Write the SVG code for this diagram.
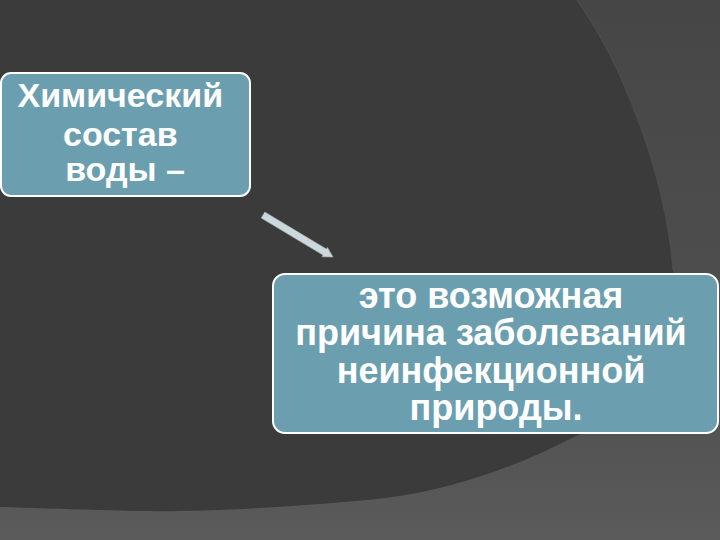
<svg xmlns="http://www.w3.org/2000/svg" width="720" height="540" viewBox="0 0 720 540">
  <defs>
    <linearGradient id="bgGrad" x1="0" y1="0" x2="0" y2="1">
      <stop offset="0" stop-color="#464646"/>
      <stop offset="0.75" stop-color="#515151"/>
      <stop offset="1" stop-color="#5b5b5b"/>
    </linearGradient>
    <style>
      .box { fill: #6b9fb0; stroke: #ffffff; stroke-width: 2; }
      .label { font-family: "Liberation Sans", Arial, sans-serif; font-weight: bold; fill: #ffffff; text-anchor: middle; }
      .arrow { fill: #cdd8dc; stroke: #9fb0b6; stroke-width: 0.6; }
    </style>
  </defs>

  <!-- background -->
  <rect x="0" y="0" width="720" height="540" fill="url(#bgGrad)"/>
  <path d="M0,0 L577,0 C620,60 665,170 673,270 C680,360 640,410 574,437 C500,475 430,495 367,500 C280,508 200,512 138,511 C90,510 40,508 0,507 Z" fill="#3b3b3b"/>
  <path d="M577,0 C620,60 665,170 673,270" fill="none" stroke="#4e4e4e" stroke-width="1.5" opacity="0.7"/>

  <!-- connectors -->
  <g id="connectors">
    <polygon class="arrow" points="264.8,212.0 326.5,249.1 327.5,247.4 333,257 321.9,256.8 322.9,255.1 261.2,218.0"/>
  </g>

  <!-- node 1 -->
  <g id="node-chem">
    <rect class="box" x="1" y="73" width="249" height="123" rx="10" ry="10"/>
    <text class="label" font-size="34">
      <tspan x="125" y="107">Химический</tspan>
      <tspan x="125" y="146">состав</tspan>
      <tspan x="125" y="181">воды –</tspan>
    </text>
  </g>

  <!-- node 2 -->
  <g id="node-cause">
    <rect class="box" x="273" y="274" width="445" height="159" rx="12" ry="12"/>
    <text class="label" font-size="36">
      <tspan x="496" y="308">это возможная</tspan>
      <tspan x="496" y="345">причина заболеваний</tspan>
      <tspan x="496" y="382.5">неинфекционной</tspan>
      <tspan x="496" y="420">природы.</tspan>
    </text>
  </g>
</svg>
